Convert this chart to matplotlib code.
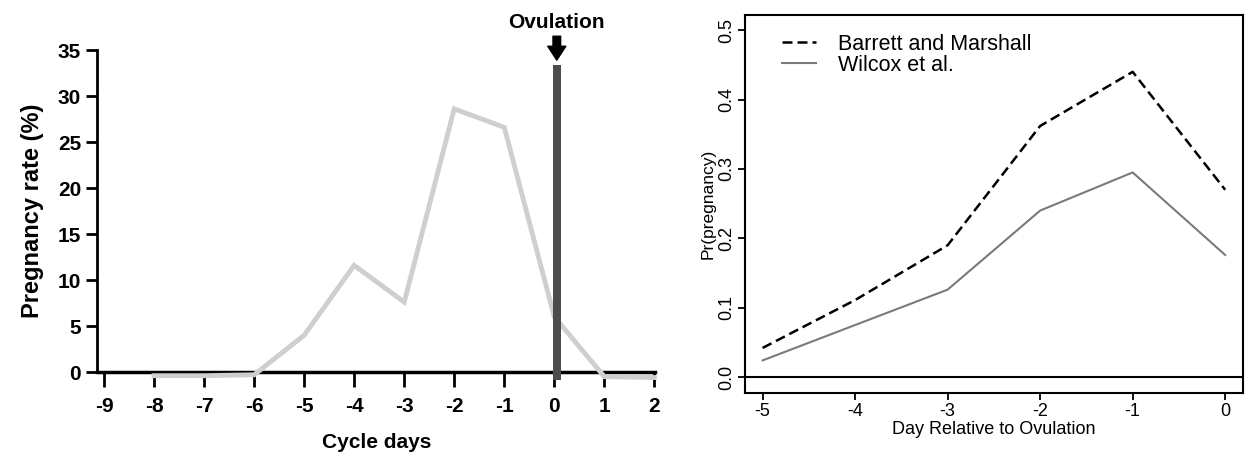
import numpy as np
import matplotlib.pyplot as plt

# left panel: pregnancy rate by cycle day
cycle_days = [-8, -7, -6, -5, -4, -3, -2, -1, 0, 1, 2]
pregnancy_rate = [-0.4, -0.4, -0.3, 4.0, 11.6, 7.6, 28.6, 26.6, 6.0, -0.5, -0.6]
left_xticks = [-9, -8, -7, -6, -5, -4, -3, -2, -1, 0, 1, 2]
left_xticklabels = ['-9', '-8', '-7', '-6', '-5', '-4', '-3', '-2', '-1', '0', '1', '2']
left_yticks = [0, 5, 10, 15, 20, 25, 30, 35]
ovulation_day = 0.05
ovulation_top = 33.4

# right panel: Pr(pregnancy) by day relative to ovulation
rel_days = [-5, -4, -3, -2, -1, 0]
barrett_marshall = [0.042, 0.111, 0.190, 0.362, 0.440, 0.270]
wilcox = [0.024, 0.075, 0.126, 0.240, 0.295, 0.176]
right_yticks = [0.0, 0.1, 0.2, 0.3, 0.4, 0.5]

sans = ['Liberation Sans', 'DejaVu Sans']

fig = plt.figure(figsize=(12.49, 4.61), dpi=100)

# ---------- left ----------
ax1 = fig.add_axes([0.0777, 0.193, 0.447, 0.6985])
ax1.plot(cycle_days, pregnancy_rate, color='#cfcfcf', lw=3.5, clip_on=False, zorder=3,
         solid_joinstyle='miter')
ax1.bar([ovulation_day], [ovulation_top + 0.9], bottom=-0.9, width=0.16,
        color='#4d4d4d', clip_on=False, zorder=4)
ax1.annotate('', xy=(ovulation_day, 33.9), xytext=(ovulation_day, 36.5),
             arrowprops=dict(arrowstyle='simple,head_width=1.3,head_length=1.0,tail_width=0.55',
                             color='black', shrinkA=0, shrinkB=0), annotation_clip=False)
ax1.text(ovulation_day, 38.0, 'Ovulation', ha='center', va='center', fontsize=15,
         fontweight='bold', family=sans)

ax1.set_xlim(-9.14, 2.02)
ax1.set_ylim(0, 35)
for s in ['top', 'right']:
    ax1.spines[s].set_visible(False)
ax1.spines['left'].set_linewidth(2)
ax1.spines['bottom'].set_linewidth(2.5)
ax1.set_xticks(left_xticks)
ax1.set_xticklabels(left_xticklabels)
ax1.set_yticks(left_yticks)
ax1.tick_params(axis='both', width=2, length=8, labelsize=15)
ax1.tick_params(axis='x', length=11, pad=7)
for lab in ax1.get_xticklabels() + ax1.get_yticklabels():
    lab.set_fontweight('bold')
    lab.set_family(sans)
ax1.set_xlabel('Cycle days', fontsize=15, fontweight='bold', family=sans, labelpad=12)
ax1.set_ylabel('Pregnancy rate (%)', fontsize=17, fontweight='bold', family=sans, labelpad=10)

# ---------- right ----------
ax2 = fig.add_axes([0.5965, 0.1475, 0.3985, 0.82])
ax2.plot(rel_days, barrett_marshall, color='black', lw=1.8, dashes=(4, 2),
         label='Barrett and Marshall')
ax2.plot(rel_days, wilcox, color='#7a7a7a', lw=1.5, label='Wilcox et al.')
ax2.axhline(0, color='black', lw=1.5)
ax2.set_xlim(-5.19, 0.19)
ax2.set_ylim(-0.023, 0.522)
ax2.set_xticks(rel_days)
ax2.set_yticks(right_yticks)
ax2.set_xticklabels([str(d) if d == 0 else '-' + str(-d) for d in rel_days])
ax2.set_yticklabels(['0.0', '0.1', '0.2', '0.3', '0.4', '0.5'], rotation=90, va='center')
ax2.tick_params(axis='both', width=1.3, length=5, labelsize=13, pad=2)
for lab in ax2.get_xticklabels() + ax2.get_yticklabels():
    lab.set_family(sans)
for s in ax2.spines.values():
    s.set_linewidth(1.5)
ax2.set_xlabel('Day Relative to Ovulation', fontsize=13, family=sans, labelpad=1)
ax2.set_ylabel('Pr(pregnancy)', fontsize=12.5, family=sans, labelpad=2)
ax2.legend(loc='upper left', bbox_to_anchor=(0.074, 0.95), frameon=False,
           prop={'family': sans, 'size': 15.5}, handlelength=1.6, handletextpad=1.0,
           labelspacing=0.0, borderaxespad=0, borderpad=0)

fig.savefig('out.png', dpi=100)
